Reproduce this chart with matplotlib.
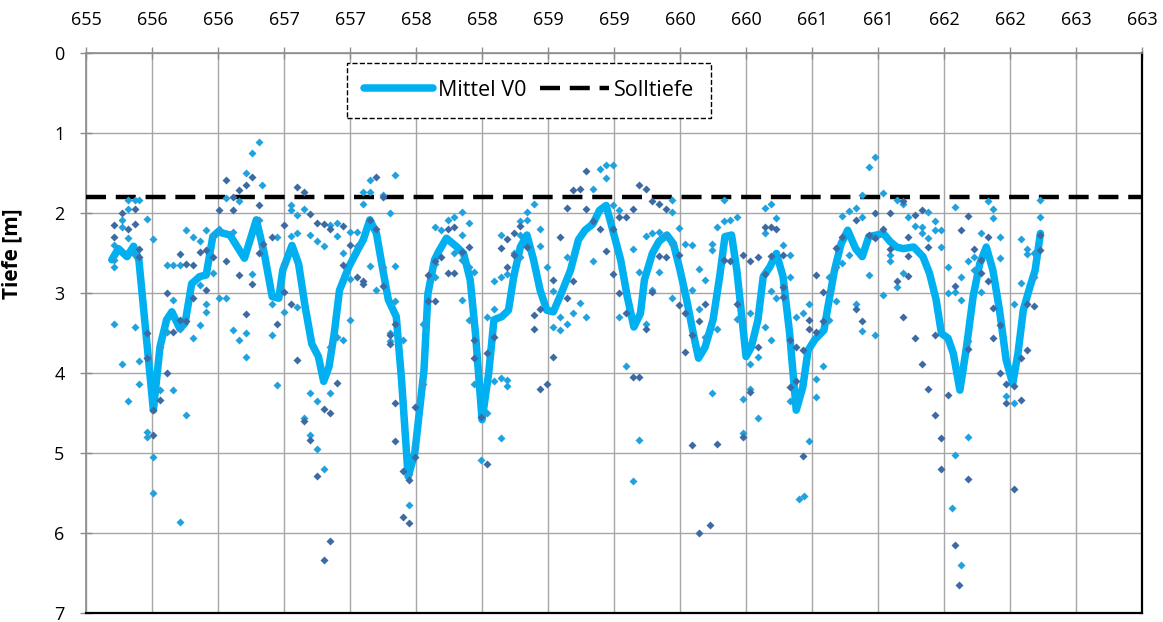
import numpy as np
import matplotlib.pyplot as plt
from matplotlib.ticker import MultipleLocator, FuncFormatter

plt.rcParams['font.family'] = ['Open Sans', 'DejaVu Sans']

# Mittel V0 (station, depth)
mean_x = [655.195, 655.245, 655.31, 655.36, 655.40, 655.51, 655.56, 655.61, 655.65, 655.71,
          655.75, 655.80, 655.86, 655.91, 655.96, 656.00, 656.09, 656.20, 656.29, 656.35,
          656.41, 656.46, 656.49, 656.56, 656.61, 656.66, 656.71, 656.76, 656.80, 656.84,
          656.88, 656.92, 656.99, 657.05, 657.10, 657.15, 657.20, 657.24, 657.29, 657.35,
          657.39, 657.44, 657.49, 657.56, 657.59, 657.64, 657.67, 657.73, 657.81, 657.86,
          657.91, 657.95, 658.00, 658.05, 658.09, 658.15, 658.20, 658.24, 658.29, 658.34,
          658.39, 658.44, 658.49, 658.54, 658.60, 658.67, 658.73, 658.78, 658.84, 658.89,
          658.94, 658.99, 659.05, 659.10, 659.15, 659.20, 659.23, 659.29, 659.34, 659.40,
          659.45, 659.50, 659.55, 659.60, 659.64, 659.69, 659.75, 659.80, 659.84, 659.89,
          659.93, 659.97, 660.00, 660.04, 660.09, 660.13, 660.18, 660.23, 660.28, 660.33,
          660.38, 660.43, 660.47, 660.52, 660.59, 660.62, 660.67, 660.72, 660.77, 660.83,
          660.88, 660.93, 660.99, 661.04, 661.09, 661.14, 661.19, 661.27, 661.34, 661.39,
          661.44, 661.48, 661.53, 661.57, 661.62, 661.67, 661.72, 661.77, 661.82, 661.87,
          661.92, 661.97, 662.02, 662.06, 662.10, 662.15, 662.19, 662.23]
mean_y = [2.58, 2.44, 2.54, 2.41, 2.58, 4.46, 3.67, 3.33, 3.23, 3.44,
          3.37, 2.88, 2.79, 2.77, 2.29, 2.23, 2.27, 2.56, 2.08, 2.50,
          3.04, 3.06, 2.71, 2.40, 2.63, 3.17, 3.63, 3.79, 4.10, 3.92,
          3.50, 2.96, 2.67, 2.48, 2.33, 2.08, 2.25, 2.63, 3.08, 3.29,
          4.08, 5.29, 5.00, 3.96, 3.00, 2.58, 2.48, 2.31, 2.42, 2.50,
          2.83, 3.50, 4.58, 4.00, 3.33, 3.29, 3.21, 2.79, 2.42, 2.27,
          2.58, 2.96, 3.21, 3.23, 3.00, 2.71, 2.33, 2.21, 2.13, 1.96,
          1.90, 2.21, 2.58, 3.04, 3.42, 3.25, 2.83, 2.50, 2.35, 2.27,
          2.38, 2.71, 3.08, 3.50, 3.81, 3.67, 3.33, 2.79, 2.29, 2.27,
          2.71, 3.33, 3.79, 3.67, 3.33, 2.79, 2.67, 2.50, 2.79, 3.50,
          4.46, 4.17, 3.71, 3.58, 3.46, 3.17, 2.71, 2.38, 2.21, 2.44,
          2.54, 2.29, 2.27, 2.25, 2.35, 2.42, 2.44, 2.42, 2.54, 2.75,
          3.08, 3.50, 3.56, 3.75, 4.21, 3.67, 3.04, 2.63, 2.42, 2.71,
          3.21, 3.83, 4.13, 3.75, 3.21, 2.92, 2.71, 2.25]

# single soundings, light blue series: station -> depths
light_x = [655.21, 655.27, 655.32, 655.37, 655.40, 655.46, 655.51, 655.56, 655.61, 655.66,
           655.71, 655.76, 655.81, 655.86, 655.91, 655.96, 656.01, 656.06, 656.11, 656.16,
           656.21, 656.26, 656.31, 656.33, 656.41, 656.45, 656.50, 656.55, 656.60, 656.65,
           656.70, 656.75, 656.80, 656.85, 656.90, 656.95, 657.00, 657.05, 657.10, 657.15,
           657.20, 657.25, 657.30, 657.34, 657.40, 657.45, 657.49, 657.55, 657.64, 657.69,
           657.74, 657.79, 657.85, 657.90, 657.94, 657.99, 658.04, 658.09, 658.14, 658.19,
           658.24, 658.29, 658.34, 658.39, 658.44, 658.49, 658.54, 658.59, 658.64, 658.69,
           658.74, 658.79, 658.84, 658.89, 658.94, 658.99, 659.04, 659.09, 659.14, 659.19,
           659.24, 659.29, 659.34, 659.39, 659.44, 659.49, 659.54, 659.59, 659.64, 659.69,
           659.74, 659.78, 659.83, 659.88, 659.93, 659.98, 660.03, 660.09, 660.14, 660.19,
           660.23, 660.28, 660.33, 660.38, 660.40, 660.43, 660.44, 660.48, 660.53, 660.58,
           660.63, 660.68, 660.73, 660.78, 660.83, 660.88, 660.93, 660.98, 661.04, 661.09,
           661.14, 661.19, 661.23, 661.28, 661.33, 661.38, 661.43, 661.48, 661.53, 661.56,
           661.58, 661.63, 661.68, 661.73, 661.78, 661.83, 661.87, 661.92, 661.97, 662.03,
           662.08, 662.13, 662.18, 662.23]
light_d = [[2.40, 2.58, 2.67, 3.38], [2.08, 2.17, 3.88], [1.83, 1.94, 2.31, 4.35], [1.83, 2.52, 3.42],
           [1.83, 3.85, 4.13], [2.07, 4.73, 4.79], [2.32, 5.04, 5.50], [3.67, 4.21], [2.65, 3.48],
           [2.65, 3.08, 4.21], [2.65, 3.44, 5.86], [2.21, 4.52], [2.30, 3.56], [2.34, 2.90, 3.40],
           [2.21, 3.13, 3.23], [2.27, 2.75], [2.19, 3.06], [1.81, 3.06], [2.23, 3.46], [1.85, 3.58],
           [1.50, 3.50, 3.80], [1.24, 2.76], [1.11, 2.08], [1.65, 2.42], [3.13, 3.52], [2.29, 4.15],
           [2.63, 3.23], [1.90, 1.96, 2.28], [2.02, 2.25, 3.17], [1.95, 4.56], [2.27, 4.25, 4.77],
           [2.35, 4.35, 4.94], [2.41, 5.19], [2.15, 3.67, 4.24], [2.12, 2.28, 3.55], [2.50, 3.58],
           [2.23, 2.82, 3.33], [2.23, 2.41], [1.73, 1.88], [1.58, 1.73, 2.66], [2.96], [1.77, 2.67],
           [1.99, 3.49, 3.59], [1.52, 2.66, 3.10], [3.58], [5.26, 5.65], [4.92], [3.38, 4.13],
           [2.17, 2.63, 2.79], [2.21], [2.08], [2.04, 2.50], [1.98, 2.27, 2.58, 3.08],
           [2.12, 2.67, 3.33], [2.73, 4.13], [5.08], [3.29, 4.50], [2.85, 3.20, 4.10],
           [2.27, 2.80, 4.06, 4.81], [2.76, 4.08, 4.16], [2.50], [2.09, 2.27, 2.54], [1.98, 2.08, 2.41],
           [1.88], [2.20, 2.41], [2.67], [2.97, 3.42], [3.29, 3.46], [2.55, 3.38], [3.24], [3.12],
           [3.29], [1.69, 2.60], [1.44], [1.40, 1.56], [1.40, 1.90], [1.96, 3.29], [3.91],
           [2.45, 5.34], [2.73, 4.83], [2.28, 3.38], [2.25, 2.96], [2.23, 2.73], [2.27],
           [1.83, 1.98, 2.38, 3.06], [2.18], [2.38], [2.40, 2.96], [2.70, 3.20], [2.83, 3.54],
           [2.38, 2.46, 4.25], [2.17, 3.44], [1.83, 2.10], [2.08], [2.05, 3.32], [4.32, 4.75],
           [3.24, 3.88, 4.20], [3.80, 4.56], [1.93, 2.25, 3.42], [1.88, 2.97, 3.58], [2.06, 3.06],
           [2.40], [2.52, 2.79, 4.35], [3.29], [5.57], [3.24], [5.53], [3.13, 4.85], [4.07, 4.29],
           [3.91], [2.79, 2.98, 3.33], [2.67, 3.10], [2.03, 2.62], [1.97, 2.52], [1.93, 3.13],
           [1.77, 2.05, 3.47], [1.42, 2.77], [1.30, 3.52], [1.75, 3.02], [2.52, 2.60], [1.83, 2.92],
           [1.88, 2.75], [2.04], [2.16], [2.17, 2.25], [1.98, 2.31], [2.10, 2.21], [2.21, 2.42],
           [2.67, 3.00], [5.68], [1.92, 2.98, 5.02], [2.79, 3.08, 6.40], [2.60, 3.60, 4.80],
           [2.54, 2.71], [2.24, 2.98], [1.85], [1.94, 2.06], [2.30, 2.56], [4.28], [3.13, 4.37],
           [2.32, 2.87], [2.44, 2.51], [2.50, 2.79], [1.83, 2.05]]

# single soundings, dark blue series: station -> depths
dark_x = [655.21, 655.27, 655.32, 655.37, 655.40, 655.46, 655.51, 655.56, 655.61, 655.66,
          655.71, 655.76, 655.81, 655.86, 655.91, 655.96, 656.01, 656.06, 656.11, 656.16,
          656.21, 656.26, 656.31, 656.34, 656.41, 656.45, 656.50, 656.55, 656.60, 656.65,
          656.70, 656.75, 656.80, 656.85, 656.90, 656.95, 657.00, 657.05, 657.10, 657.15,
          657.20, 657.25, 657.30, 657.34, 657.40, 657.45, 657.49, 657.59, 657.64, 657.69,
          657.74, 657.79, 657.85, 657.90, 657.94, 657.99, 658.04, 658.09, 658.14, 658.19,
          658.24, 658.29, 658.34, 658.39, 658.44, 658.49, 658.54, 658.59, 658.64, 658.69,
          658.74, 658.79, 658.84, 658.89, 658.94, 658.99, 659.04, 659.09, 659.14, 659.19,
          659.24, 659.29, 659.34, 659.39, 659.49, 659.54, 659.59, 659.64, 659.69, 659.73,
          659.78, 659.83, 659.88, 659.93, 659.98, 660.03, 660.09, 660.14, 660.19, 660.23,
          660.28, 660.33, 660.38, 660.43, 660.48, 660.53, 660.58, 660.68, 660.73, 660.83,
          660.88, 660.93, 660.98, 661.04, 661.09, 661.14, 661.19, 661.23, 661.28, 661.33,
          661.38, 661.43, 661.48, 661.53, 661.58, 661.61, 661.63, 661.68, 661.73, 661.78,
          661.83, 661.87, 661.92, 661.97, 662.03, 662.08, 662.13, 662.18, 662.23]
dark_d = [[2.15, 2.29], [2.00], [2.19], [1.94, 2.13], [2.44, 2.54], [3.50, 3.81], [4.46, 4.77],
          [4.33], [3.00, 3.99], [3.48], [2.51, 3.33], [2.63, 3.35], [2.65, 3.06], [2.48],
          [2.46, 2.96], [2.54], [1.96], [1.58, 2.60], [1.80, 1.96], [1.71, 2.77], [1.65, 3.26],
          [1.54, 2.88], [1.90, 2.50], [2.38], [2.29], [3.38], [2.15, 2.98], [3.13], [1.67, 3.83],
          [1.73, 4.60], [2.01, 4.83], [2.12, 5.28], [2.13, 4.44, 6.33], [2.19, 4.49, 6.10], [4.12],
          [2.16, 2.65], [2.40], [2.80], [2.85, 2.88], [2.08], [1.55, 2.19], [1.79, 2.91],
          [3.52, 3.63], [3.38, 4.37, 4.85], [5.22, 5.80], [5.33, 5.87], [4.42, 5.05], [2.77, 3.10],
          [2.60, 3.10], [2.54], [2.19, 2.75], [2.17, 2.75], [2.48], [2.42], [3.58, 3.81], [4.54],
          [3.75, 5.13], [3.54], [2.43], [2.32, 2.67], [2.24, 2.52], [2.16], [2.42], [3.27, 3.44],
          [3.20, 4.19], [4.13], [2.83, 3.80], [2.29], [1.93, 3.06], [1.71, 2.85], [1.69],
          [1.47, 1.95], [2.10], [2.19], [2.47], [2.19, 2.76], [2.04, 3.00], [2.04, 3.24],
          [1.95, 4.04], [1.65, 4.04], [1.69, 3.44], [1.85, 2.98], [1.88, 2.53], [1.94, 2.54],
          [2.52, 3.15], [3.25, 3.73], [3.52, 4.90], [3.35, 5.99], [3.13], [5.90], [4.88], [2.58],
          [2.60], [3.13], [2.52, 4.79], [2.60, 4.23], [2.54, 3.67], [2.17, 2.76], [2.17, 2.53],
          [2.19], [2.52, 2.92, 3.04], [3.58, 4.17], [3.67, 4.10], [3.71, 5.03], [3.33, 3.44],
          [2.77, 3.48], [2.98, 3.35], [2.43], [2.30], [2.08, 3.19], [3.35], [2.27], [1.99, 2.31],
          [2.19], [1.99, 2.44], [2.85], [1.85, 3.29], [2.30, 2.53, 2.78], [2.02, 3.56],
          [1.96, 3.88], [2.42, 4.19], [3.52, 4.52], [4.81, 5.19], [4.27], [2.91, 6.15], [6.65],
          [2.21], [2.03, 3.69, 5.32], [2.44], [2.58, 2.75], [2.29, 2.85], [3.18, 3.56],
          [3.40, 3.99], [4.13, 4.37], [4.16, 5.44], [3.81, 4.33], [3.13, 3.71], [3.16], [2.27, 2.46]]

soll_depth = 1.8


def flatten(xs, ds):
    px, py = [], []
    for x, col in zip(xs, ds):
        for d in col:
            px.append(x)
            py.append(d)
    return px, py


fig = plt.figure(figsize=(11.63, 6.22), dpi=100)
ax = fig.add_axes([0.074, 0.014, 0.908, 0.900])

ax.plot(mean_x, mean_y, color='#00B0F0', lw=5.4, solid_joinstyle='round',
        solid_capstyle='round', label='Mittel V0', zorder=3)
ax.axhline(soll_depth, color='black', lw=3.2, dashes=(4.5, 2.2), label='Solltiefe', zorder=4)

lx, ly = flatten(light_x, light_d)
dx, dy = flatten(dark_x, dark_d)
ax.plot(lx, ly, ls='none', marker='D', ms=3.6, color='#1FA2DD', mec='none', zorder=5)
ax.plot(dx, dy, ls='none', marker='D', ms=3.6, color='#3D6AA2', mec='none', zorder=5)

ax.set_xlim(655, 663)
ax.set_ylim(7, 0)
ax.xaxis.tick_top()
ax.xaxis.set_major_locator(MultipleLocator(0.5))
ax.xaxis.set_major_formatter(FuncFormatter(lambda v, p: str(int(np.floor(v + 0.5)))))
ax.yaxis.set_major_locator(MultipleLocator(1))
ax.grid(True, color='#A6A6A6', lw=1.0)
ax.set_axisbelow(True)

ax.tick_params(axis='x', direction='inout', length=9, width=1, color='#8C8C8C',
               labelsize=13, pad=13)
ax.tick_params(axis='y', direction='inout', length=9, width=1, color='#8C8C8C',
               labelsize=13, pad=11)

for s in ['top', 'left']:
    ax.spines[s].set_color('#8C8C8C')
    ax.spines[s].set_linewidth(1.2)
for s in ['bottom', 'right']:
    ax.spines[s].set_color('black')
    ax.spines[s].set_linewidth(1.6)

ax.set_ylabel('Tiefe [m]', fontsize=15, fontweight='bold')
ax.yaxis.set_label_coords(-0.06, 0.643)

leg = ax.legend(loc='center', bbox_to_anchor=(0.4195, 0.934), ncol=2, fontsize=15.5,
                handlelength=3.2, handletextpad=0.25, columnspacing=0.6, borderpad=0.8,
                fancybox=False, framealpha=1)
leg.get_frame().set_edgecolor('black')
leg.get_frame().set_linestyle('--')
leg.get_frame().set_linewidth(1.0)

fig.savefig('out.png', dpi=100)
